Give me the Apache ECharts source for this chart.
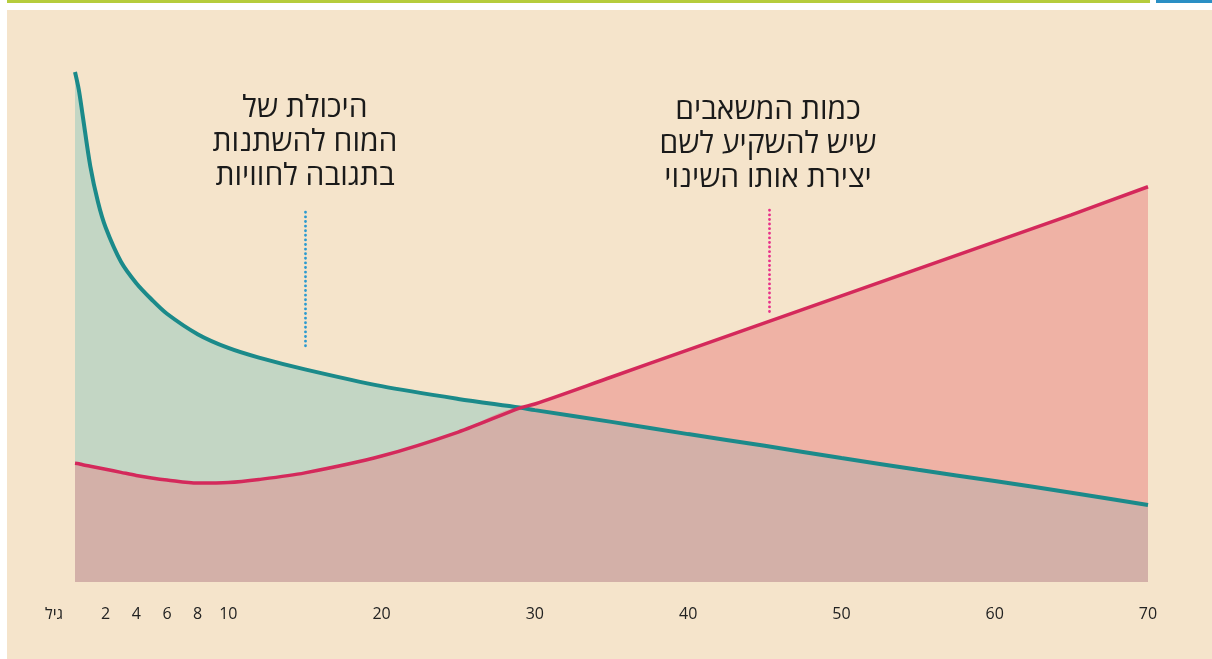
<!DOCTYPE html>
<html>
<head>
<meta charset="utf-8">
<script src="https://cdn.jsdelivr.net/npm/echarts@6/dist/echarts.min.js"></script>
<style>
html, body { margin: 0; padding: 0; background: #ffffff; }
#chart { width: 1212px; height: 659px; }
</style>
</head>
<body>
<div id="chart"></div>
<script>
// גיל (שנים)
var ages = [0, 0.25, 0.5, 1, 1.5, 2, 3, 4, 5, 6, 8, 10, 12, 15, 20, 25, 29, 30, 35, 40, 45, 50, 55, 60, 65, 70]
// היכולת של המוח להשתנות
var plasticity = [100, 96.5, 91.5, 81.5, 74.5, 69.5, 62.8, 58.6, 55.4, 52.6, 48.6, 45.9, 44.0, 41.7, 38.4, 35.9, 34.2, 33.7, 31.4, 29.0, 26.7, 24.3, 22.0, 19.8, 17.5, 15.1]
// כמות המשאבים שיש להשקיע
var effort = [23.3, 23.2, 23.0, 22.7, 22.4, 22.1, 21.5, 20.9, 20.4, 20.0, 19.4, 19.5, 20.1, 21.4, 24.7, 29.4, 34.1, 34.9, 40.2, 45.5, 50.8, 56.1, 61.4, 66.7, 72.0, 77.5]
var tickAges = [2, 4, 6, 8, 10, 20, 30, 40, 50, 60, 70]
var axisName = "גיל"
var noteBrain = "היכולת של\nהמוח להשתנות\nבתגובה לחוויות"
var noteEffort = "כמות המשאבים\nשיש להשקיע לשם\nיצירת אותו השינוי"

var pairs = function(ys) {
    return ages.map(function(a, i) { return [a, ys[i]] })
}
var overlap = ages.map(function(a, i) { return [a, Math.min(plasticity[i], effort[i])] })

var font = '"Open Sans", "DejaVu Sans", sans-serif'
var smooth = 0.3

var chart = echarts.init(document.getElementById("chart"))
var option = {
    animation: false,
    backgroundColor: "#ffffff",
    textStyle: { fontFamily: font },
    grid: { left: 75, right: 64, top: 72, bottom: 77 },
    graphic: [
        // רקע ופסים עליונים
        { type: "rect", z: -10, shape: { x: 7, y: 10, width: 1205, height: 649 }, style: { fill: "#f5e4cb" } },
        { type: "rect", z: -10, shape: { x: 7, y: 0, width: 1143, height: 3 }, style: { fill: "#b6cc3c" } },
        { type: "rect", z: -10, shape: { x: 1156, y: 0, width: 56, height: 3 }, style: { fill: "#2a8fc4" } },
        {
            type: "text", x: 305, y: 91, z: 10,
            style: { text: noteBrain, fill: "#1a1a1a", font: "30px " + font, align: "center", verticalAlign: "top", lineHeight: 34 }
        },
        {
            type: "text", x: 768, y: 93, z: 10,
            style: { text: noteEffort, fill: "#1a1a1a", font: "30px " + font, align: "center", verticalAlign: "top", lineHeight: 34 }
        },
        {
            type: "text", x: 63, y: 614, z: 10,
            style: { text: axisName, fill: "#222222", font: "16px " + font, align: "right", verticalAlign: "middle" }
        }
    ],
    xAxis: {
        type: "value",
        min: 0,
        max: 70,
        axisLine: { show: false },
        axisTick: { show: false },
        splitLine: { show: false },
        axisLabel: {
            customValues: tickAges,
            margin: 24,
            color: "#222222",
            fontSize: 16,
            fontFamily: font
        }
    },
    yAxis: {
        type: "value",
        min: 0,
        max: 100,
        show: false
    },
    series: [
        {
            name: "plasticityArea",
            type: "line",
            data: pairs(plasticity),
            smooth: smooth,
            showSymbol: false,
            lineStyle: { width: 0 },
            areaStyle: { color: "#c3d6c4", opacity: 1 },
            z: 1
        },
        {
            name: "effortArea",
            type: "line",
            data: pairs(effort),
            smooth: smooth,
            showSymbol: false,
            lineStyle: { width: 0 },
            areaStyle: { color: "#efb2a5", opacity: 1 },
            z: 2
        },
        {
            name: "overlapArea",
            type: "line",
            data: overlap,
            smooth: smooth,
            showSymbol: false,
            lineStyle: { width: 0 },
            areaStyle: { color: "#d3b0a8", opacity: 1 },
            z: 3
        },
        {
            name: "plasticity",
            type: "line",
            data: pairs(plasticity),
            smooth: smooth,
            showSymbol: false,
            clip: false,
            lineStyle: { color: "#1b8a8a", width: 4 },
            markLine: {
                silent: true,
                symbol: "none",
                label: { show: false },
                lineStyle: { color: "#2a9ad0", type: [0.1, 4.5], width: 2.8, cap: "round" },
                data: [[{ coord: [15, 72.5] }, { coord: [15, 45.5] }]]
            },
            z: 4
        },
        {
            name: "effort",
            type: "line",
            data: pairs(effort),
            smooth: smooth,
            showSymbol: false,
            clip: false,
            lineStyle: { color: "#d4295b", width: 3.5 },
            markLine: {
                silent: true,
                symbol: "none",
                label: { show: false },
                lineStyle: { color: "#e8308a", type: [0.1, 4.5], width: 2.8, cap: "round" },
                data: [[{ coord: [45.3, 72.9] }, { coord: [45.3, 52.9] }]]
            },
            z: 5
        }
    ]
}
chart.setOption(option)
</script>
</body>
</html>
